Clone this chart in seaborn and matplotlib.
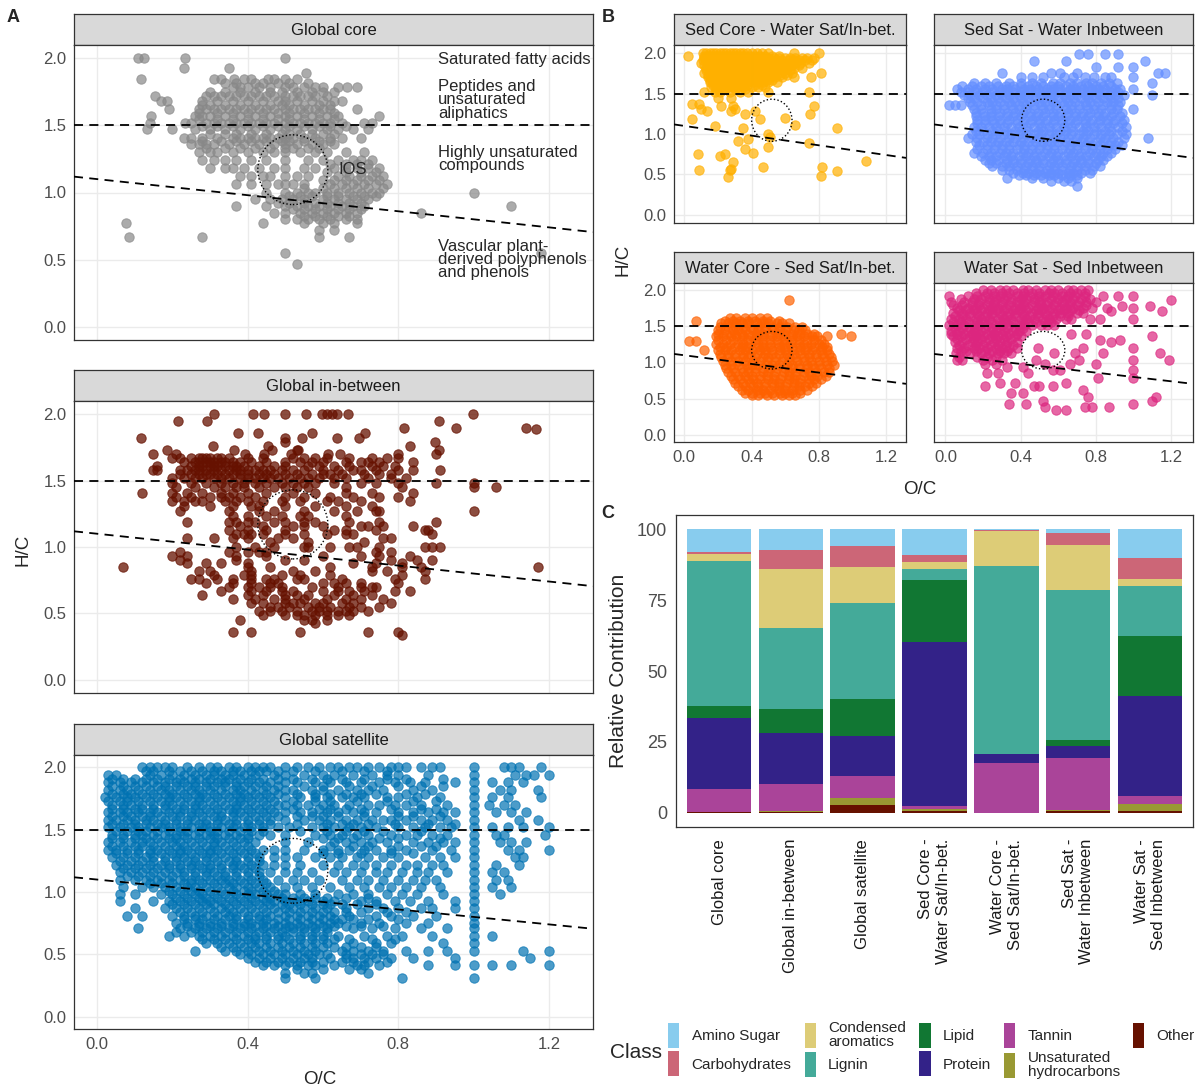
import numpy as np
import pandas as pd
import matplotlib
matplotlib.use("Agg")
import matplotlib.pyplot as plt
import seaborn as sns
from matplotlib.patches import Ellipse, Patch

# ---------------- data ----------------
oc_ticks = [0.0, 0.4, 0.8, 1.2]
hc_ticks = [0.0, 0.5, 1.0, 1.5, 2.0]

# van Krevelen points, stored as (H/C, [O/C values]) rows
core_rows = [
    (2.00, [0.11, 0.125, 0.235, 0.50]),
    (1.93, [0.23, 0.35]),
    (1.89, [0.555]),
    (1.85, [0.117, 0.31, 0.33, 0.365, 0.39, 0.41, 0.455, 0.47, 0.50, 0.53]),
    (1.79, [0.36, 0.38, 0.40, 0.43, 0.46, 0.50, 0.52, 0.55, 0.58, 0.60, 0.64, 0.665, 0.69]),
    (1.72, [0.155, 0.29, 0.31, 0.33, 0.35, 0.37, 0.39, 0.41, 0.43, 0.45, 0.47, 0.50, 0.52, 0.54, 0.56, 0.58, 0.61]),
    (1.68, [0.17, 0.185, 0.28, 0.32, 0.36, 0.40, 0.44, 0.48, 0.50, 0.53, 0.57, 0.60, 0.63, 0.65]),
    (1.62, [0.19, 0.27, 0.29, 0.31, 0.33, 0.35, 0.37, 0.39, 0.41, 0.43, 0.45, 0.47, 0.50, 0.52, 0.54, 0.56, 0.58, 0.60, 0.62, 0.69]),
    (1.57, [0.143, 0.26, 0.28, 0.30, 0.34, 0.38, 0.42, 0.46, 0.50, 0.53, 0.57, 0.61, 0.64, 0.75]),
    (1.52, [0.14, 0.235, 0.25, 0.29, 0.31, 0.33, 0.35, 0.37, 0.39, 0.41, 0.43, 0.45, 0.47, 0.50, 0.52, 0.54, 0.56, 0.58, 0.60, 0.62, 0.65, 0.71, 0.73]),
    (1.47, [0.133, 0.20, 0.26, 0.30, 0.34, 0.38, 0.42, 0.46, 0.50, 0.53, 0.57, 0.61, 0.64, 0.68, 0.72]),
    (1.41, [0.23, 0.25, 0.28, 0.32, 0.36, 0.38, 0.40, 0.42, 0.44, 0.46, 0.48, 0.50, 0.52, 0.55, 0.58, 0.62, 0.65, 0.70]),
    (1.36, [0.25, 0.27, 0.29, 0.31, 0.35, 0.39, 0.43, 0.47, 0.50, 0.53, 0.57, 0.60, 0.63]),
    (1.30, [0.27, 0.30, 0.32, 0.36, 0.40, 0.44, 0.47, 0.50, 0.54, 0.58, 0.61, 0.66, 0.71]),
    (1.24, [0.28, 0.31, 0.34, 0.37, 0.41, 0.45, 0.50, 0.56, 0.60, 0.64, 0.68, 0.70, 0.73]),
    (1.18, [0.30, 0.34, 0.36, 0.39, 0.43, 0.47, 0.50, 0.55, 0.58, 0.63, 0.66, 0.69, 0.72, 0.75]),
    (1.12, [0.38, 0.41, 0.44, 0.46, 0.50, 0.53, 0.56, 0.64, 0.67, 0.70, 0.73, 0.76]),
    (1.06, [0.37, 0.41, 0.45, 0.48, 0.50, 0.52, 0.55, 0.62, 0.65, 0.68, 0.71, 0.74, 0.77]),
    (1.00, [0.45, 0.50, 0.53, 0.56, 0.58, 0.61, 0.64, 0.67, 0.70, 0.73, 0.75, 1.00]),
    (0.95, [0.42, 0.46, 0.49, 0.52, 0.55, 0.60, 0.63, 0.66, 0.69, 0.72]),
    (0.90, [0.37, 0.45, 0.50, 0.53, 0.56, 0.59, 0.62, 0.65, 0.68, 0.71, 1.10]),
    (0.85, [0.47, 0.50, 0.54, 0.57, 0.60, 0.63, 0.66, 0.69, 0.86]),
    (0.80, [0.50, 0.53, 0.56, 0.59, 0.62, 0.66, 0.69]),
    (0.77, [0.077, 0.44, 0.55, 0.60, 0.63, 0.69]),
    (0.72, [0.59, 0.63]),
    (0.67, [0.084, 0.28, 0.59, 0.67]),
    (0.55, [0.50, 1.18]),
    (0.47, [0.53]),
]
core_fill_rows = [
    (1.82, [0.34, 0.37, 0.42, 0.44, 0.48, 0.51, 0.56]),
    (1.75, [0.30, 0.34, 0.38, 0.42, 0.46, 0.49, 0.53, 0.57, 0.60, 0.63]),
    (1.65, [0.28, 0.30, 0.34, 0.38, 0.42, 0.46, 0.49, 0.51, 0.55, 0.59, 0.62]),
    (1.595, [0.27, 0.32, 0.36, 0.40, 0.44, 0.48, 0.51, 0.55, 0.59, 0.63]),
    (1.545, [0.27, 0.32, 0.36, 0.40, 0.44, 0.48, 0.51, 0.55, 0.59, 0.63]),
    (1.495, [0.28, 0.32, 0.36, 0.40, 0.44, 0.48, 0.51, 0.55, 0.59, 0.62, 0.66]),
    (1.44, [0.30, 0.34, 0.37, 0.41, 0.45, 0.49, 0.51, 0.54, 0.57, 0.60, 0.63]),
    (1.385, [0.28, 0.33, 0.37, 0.41, 0.45, 0.49, 0.51, 0.55, 0.59, 0.62]),
    (1.33, [0.29, 0.34, 0.38, 0.42, 0.46, 0.50, 0.52, 0.56, 0.59]),
    (1.21, [0.62, 0.66, 0.69, 0.72]),
    (1.15, [0.61, 0.66, 0.70, 0.74]),
    (1.09, [0.60, 0.63, 0.66, 0.69, 0.72, 0.75]),
    (1.03, [0.55, 0.60, 0.63, 0.66, 0.69, 0.72, 0.76]),
    (0.975, [0.51, 0.54, 0.57, 0.61, 0.64, 0.68, 0.71, 0.74]),
    (0.92, [0.48, 0.51, 0.55, 0.58, 0.61, 0.64, 0.67, 0.70]),
    (0.875, [0.52, 0.55, 0.58, 0.61, 0.64, 0.67, 0.70]),
    (0.825, [0.55, 0.58, 0.61, 0.64, 0.67]),
]

between_rows = [
    (2.00, [0.312, 0.415, 0.444, 0.50, 0.555, 0.598, 0.61, 0.623, 0.637, 0.666, 0.998]),
    (1.95, [0.216, 0.292, 0.907]),
    (1.90, [0.816, 0.952, 1.14]),
    (1.89, [1.165]),
    (1.86, [0.375, 0.428, 0.57, 0.712]),
    (1.82, [0.117, 0.50, 0.545, 0.636, 0.697]),
    (1.79, [0.50, 0.897]),
    (1.76, [0.307, 0.454, 0.831]),
    (1.73, [0.185, 0.363, 0.466, 0.53, 0.535, 0.907]),
    (1.70, [0.15, 0.21, 0.393, 0.444, 0.514, 0.614, 0.646, 0.798, 0.90]),
    (1.67, [0.20, 0.22, 0.25, 0.27, 0.28, 0.29, 0.30, 0.32, 0.33, 0.35, 0.40, 0.44, 0.52, 0.55, 0.58, 0.61, 0.67, 0.73, 0.77, 0.80]),
    (1.64, [0.23, 0.26, 0.27, 0.29, 0.30, 0.31, 0.33, 0.34, 0.36, 0.38, 0.41, 0.45, 0.50, 0.54, 0.57, 0.60, 0.66, 0.70, 0.72, 0.75, 0.84]),
    (1.61, [0.16, 0.25, 0.27, 0.28, 0.30, 0.31, 0.32, 0.34, 0.36, 0.37, 0.39, 0.43, 0.47, 0.50, 0.56, 0.59, 0.63, 0.67, 0.73, 0.76, 0.79]),
    (1.58, [0.15, 0.16, 0.22, 0.24, 0.26, 0.27, 0.29, 0.31, 0.33, 0.35, 0.37, 0.38, 0.40, 0.42, 0.44, 0.46, 0.49, 0.52, 0.55, 0.60, 0.64, 0.68, 0.70, 0.74, 0.80, 0.84, 0.91]),
    (1.55, [0.22, 0.25, 0.27, 0.29, 0.30, 0.32, 0.34, 0.36, 0.38, 0.40, 0.43, 0.45, 0.47, 0.50, 0.53, 0.57, 0.60, 0.62, 0.65, 0.71, 0.75, 0.78]),
    (1.52, [0.20, 0.23, 0.26, 0.28, 0.31, 0.33, 0.35, 0.38, 0.40, 0.42, 0.44, 0.46, 0.48, 0.51, 0.54, 0.56, 0.59, 0.63, 0.66, 0.72, 0.78, 0.82]),
    (1.48, [0.20, 0.25, 0.29, 0.33, 0.36, 0.39, 0.42, 0.45, 0.49, 0.52, 0.55, 0.58, 0.63, 0.70, 0.74, 0.80, 0.90, 1.00]),
    (1.45, [0.21, 0.26, 0.31, 0.34, 0.37, 0.39, 0.43, 0.47, 0.50, 0.53, 0.56, 0.66, 0.81, 1.00, 1.06]),
    (1.41, [0.12, 0.20, 0.24, 0.28, 0.33, 0.36, 0.40, 0.45, 0.52, 0.58, 0.66, 0.73, 0.84]),
    (1.38, [0.21, 0.25, 0.30, 0.33, 0.35, 0.38, 0.42, 0.50, 0.55, 0.62, 0.68, 0.75, 0.80]),
    (1.35, [0.20, 0.23, 0.26, 0.28, 0.34, 0.37, 0.40, 0.44, 0.49, 0.54, 0.61, 0.64, 0.70, 0.83]),
    (1.31, [0.23, 0.30, 0.36, 0.41, 0.43, 0.50, 0.58, 0.66, 0.73]),
    (1.27, [0.22, 0.35, 0.43, 0.47, 0.55, 0.63, 0.69, 0.74, 0.75, 1.00]),
    (1.23, [0.36, 0.40, 0.45, 0.49, 0.54, 0.56, 0.66]),
    (1.19, [0.24, 0.35, 0.37, 0.40, 0.42, 0.47, 0.50, 0.55, 0.58, 0.67, 0.75, 0.90]),
    (1.16, [0.38, 0.44, 0.52, 0.55, 0.60, 0.70, 0.72, 0.76, 0.84]),
    (1.13, [0.35, 0.40, 0.45, 0.50, 0.63, 0.66, 0.74, 0.87, 0.88]),
    (1.10, [0.37, 0.39, 0.41, 0.44, 0.50, 0.55, 0.61, 0.66, 0.68, 0.89]),
    (1.07, [0.24, 0.31, 0.36, 0.40, 0.48, 0.52, 0.76, 0.78]),
    (1.04, [0.46, 0.56, 0.71]),
    (1.00, [0.37, 0.42, 0.47, 0.55, 0.56, 0.62, 0.67, 0.69, 0.75, 0.87, 0.89, 0.91]),
    (0.96, [0.22, 0.35, 0.40, 0.43, 0.45, 0.74, 0.78]),
    (0.93, [0.20, 0.24, 0.37, 0.45, 0.60, 0.70, 0.75, 0.83]),
    (0.90, [0.22, 0.37, 0.50, 0.55, 0.78, 0.85, 0.89]),
    (0.88, [0.24, 0.29, 0.33, 0.40, 0.68, 0.74, 0.81]),
    (0.85, [0.07, 0.40, 0.46, 0.62, 0.73, 0.81, 0.86, 1.17]),
    (0.82, [0.27, 0.30, 0.41, 0.52, 0.58, 0.73, 0.77, 0.87]),
    (0.79, [0.31, 0.39, 0.41, 0.49, 0.54, 0.62, 0.81]),
    (0.76, [0.25, 0.27, 0.32, 0.36, 0.41, 0.45, 0.47, 0.53, 0.55, 0.65, 0.79, 0.87]),
    (0.73, [0.29, 0.36, 0.41, 0.46, 0.48, 0.60, 0.63, 0.66, 0.70, 0.80]),
    (0.70, [0.35, 0.40, 0.43, 0.46, 0.49, 0.57, 0.64, 0.70, 0.73, 0.74]),
    (0.67, [0.33, 0.41, 0.45, 0.49, 0.52, 0.60, 0.64, 0.67, 0.71, 0.79, 0.83]),
    (0.64, [0.28, 0.40, 0.44, 0.50, 0.53, 0.56, 0.63, 0.68, 0.73]),
    (0.61, [0.36, 0.42, 0.47, 0.50, 0.55, 0.61, 0.66, 0.70, 0.76]),
    (0.58, [0.41, 0.44, 0.50, 0.52, 0.54, 0.58, 0.60, 0.65, 0.68, 0.78]),
    (0.55, [0.46, 0.48, 0.51, 0.56, 0.59, 0.62, 0.67, 0.70, 0.75]),
    (0.52, [0.43, 0.46, 0.49, 0.53, 0.57, 0.59, 0.61, 0.64, 0.66, 0.68, 0.72]),
    (0.49, [0.44, 0.50, 0.53, 0.55, 0.58, 0.61, 0.64, 0.67]),
    (0.45, [0.38, 0.55, 0.57, 0.61]),
    (0.43, [0.58]),
    (0.36, [0.36, 0.41, 0.54, 0.72, 0.80]),
    (0.34, [0.81]),
]

satellite_rows = [
    (2.00, [0.12, 0.14, 0.16, 0.18, 0.20, 0.24, 0.27, 0.30, 0.32, 0.35, 0.37, 0.40, 0.42, 0.44, 0.46, 0.50, 0.53, 0.56, 0.59, 0.62, 0.64, 0.67, 0.69, 0.72, 0.75, 0.78, 0.80, 0.82, 0.86, 0.89, 0.91, 1.00, 1.08, 1.10, 1.12, 1.18]),
    (1.94, [0.03, 0.05, 0.14, 0.17, 0.20, 0.23, 0.26, 0.29, 0.31, 0.34, 0.36, 0.39, 0.42, 0.47, 0.50, 0.55, 0.60, 0.63, 0.68, 0.73, 0.77, 0.80, 0.88, 1.00, 1.11, 1.14, 1.16, 1.20]),
    (1.88, [0.03, 0.06, 0.09, 0.12, 0.15, 0.18, 0.21, 0.23, 0.26, 0.29, 0.32, 0.34, 0.37, 0.40, 0.43, 0.46, 0.50, 0.53, 0.58, 0.62, 0.66, 0.70, 0.75, 0.79, 0.83, 0.87, 0.95, 1.00, 1.05, 1.09, 1.13]),
    (1.82, [0.03, 0.06, 0.08, 0.11, 0.14, 0.17, 0.19, 0.22, 0.25, 0.27, 0.30, 0.33, 0.36, 0.38, 0.41, 0.44, 0.47, 0.50, 0.52, 0.57, 0.60, 0.64, 0.69, 0.72, 0.76, 0.84, 0.89, 1.00, 1.07, 1.10, 1.17]),
    (1.76, [0.02, 0.05, 0.08, 0.10, 0.13, 0.16, 0.19, 0.21, 0.24, 0.27, 0.29, 0.32, 0.35, 0.38, 0.40, 0.43, 0.46, 0.50, 0.54, 0.58, 0.61, 0.65, 0.68, 0.71, 0.77, 0.80, 0.85, 0.91, 1.00, 1.05, 1.09, 1.18]),
    (1.70, [0.04, 0.07, 0.09, 0.12, 0.15, 0.18, 0.20, 0.23, 0.26, 0.28, 0.31, 0.34, 0.37, 0.39, 0.42, 0.45, 0.48, 0.50, 0.53, 0.56, 0.60, 0.63, 0.67, 0.72, 0.75, 0.79, 0.82, 0.86, 0.93, 1.00, 1.04, 1.08, 1.11]),
    (1.64, [0.03, 0.06, 0.08, 0.11, 0.14, 0.16, 0.19, 0.22, 0.25, 0.27, 0.30, 0.33, 0.36, 0.38, 0.41, 0.44, 0.47, 0.50, 0.54, 0.57, 0.61, 0.64, 0.68, 0.71, 0.74, 0.80, 0.84, 0.88, 0.92, 0.95, 1.00, 1.06, 1.10, 1.14]),
    (1.58, [0.03, 0.05, 0.08, 0.10, 0.13, 0.15, 0.18, 0.21, 0.24, 0.26, 0.29, 0.32, 0.34, 0.37, 0.40, 0.43, 0.46, 0.50, 0.55, 0.59, 0.62, 0.66, 0.69, 0.73, 0.76, 0.78, 0.82, 0.86, 0.89, 0.93, 1.00, 1.12, 1.17]),
    (1.52, [0.03, 0.06, 0.09, 0.11, 0.14, 0.17, 0.19, 0.22, 0.25, 0.28, 0.30, 0.33, 0.36, 0.39, 0.41, 0.44, 0.48, 0.51, 0.57, 0.60, 0.63, 0.67, 0.70, 0.74, 0.80, 0.84, 0.87, 0.91, 0.94, 1.00, 1.05, 1.09, 1.13, 1.20]),
    (1.46, [0.04, 0.07, 0.10, 0.12, 0.15, 0.18, 0.21, 0.23, 0.26, 0.29, 0.31, 0.34, 0.37, 0.40, 0.43, 0.46, 0.50, 0.58, 0.62, 0.65, 0.69, 0.72, 0.78, 0.82, 0.85, 0.89, 0.93, 1.00, 1.06, 1.08, 1.19]),
    (1.40, [0.03, 0.06, 0.09, 0.12, 0.14, 0.17, 0.20, 0.22, 0.25, 0.28, 0.31, 0.33, 0.36, 0.39, 0.42, 0.50, 0.56, 0.63, 0.66, 0.70, 0.73, 0.77, 0.84, 0.88, 0.92, 0.95, 1.00, 1.07, 1.10, 1.14]),
    (1.34, [0.03, 0.05, 0.08, 0.11, 0.14, 0.16, 0.19, 0.22, 0.24, 0.27, 0.30, 0.32, 0.35, 0.38, 0.41, 0.44, 0.47, 0.50, 0.55, 0.60, 0.64, 0.67, 0.71, 0.74, 0.78, 0.82, 0.89, 0.94, 1.00, 1.09, 1.12, 1.20]),
    (1.28, [0.04, 0.07, 0.10, 0.13, 0.15, 0.18, 0.21, 0.23, 0.26, 0.29, 0.31, 0.34, 0.37, 0.40, 0.43, 0.47, 0.50, 0.53, 0.58, 0.62, 0.65, 0.69, 0.72, 0.76, 0.80, 0.87, 0.91, 0.95, 1.00, 1.11, 1.13]),
    (1.22, [0.05, 0.08, 0.11, 0.14, 0.17, 0.19, 0.22, 0.25, 0.27, 0.30, 0.33, 0.36, 0.38, 0.41, 0.44, 0.47, 0.50, 0.54, 0.60, 0.64, 0.68, 0.71, 0.74, 0.78, 0.82, 0.85, 0.89, 0.92, 1.00, 1.06, 1.12]),
    (1.16, [0.06, 0.09, 0.12, 0.15, 0.18, 0.21, 0.23, 0.26, 0.29, 0.31, 0.34, 0.37, 0.40, 0.43, 0.46, 0.50, 0.53, 0.57, 0.63, 0.66, 0.70, 0.74, 0.77, 0.81, 0.85, 0.88, 0.93, 1.00, 1.05, 1.08]),
    (1.10, [0.06, 0.10, 0.13, 0.16, 0.19, 0.22, 0.25, 0.27, 0.30, 0.33, 0.35, 0.38, 0.41, 0.44, 0.48, 0.52, 0.55, 0.59, 0.65, 0.69, 0.72, 0.76, 0.80, 0.84, 0.87, 0.90, 1.00, 1.06, 1.09]),
    (1.04, [0.07, 0.12, 0.15, 0.18, 0.21, 0.24, 0.26, 0.29, 0.32, 0.35, 0.37, 0.40, 0.43, 0.46, 0.50, 0.53, 0.57, 0.62, 0.67, 0.71, 0.75, 0.78, 0.82, 0.86, 0.91, 1.00, 1.05, 1.10]),
    (0.98, [0.06, 0.10, 0.17, 0.20, 0.23, 0.26, 0.28, 0.31, 0.34, 0.37, 0.40, 0.42, 0.45, 0.48, 0.50, 0.54, 0.58, 0.64, 0.68, 0.72, 0.77, 0.81, 0.85, 0.92, 1.00, 1.07]),
    (0.93, [0.06, 0.15, 0.19, 0.22, 0.25, 0.28, 0.30, 0.33, 0.36, 0.39, 0.42, 0.45, 0.47, 0.50, 0.53, 0.56, 0.60, 0.63, 0.70, 0.74, 0.79, 0.83, 0.88, 0.95, 1.00]),
    (0.87, [0.10, 0.18, 0.21, 0.24, 0.27, 0.30, 0.33, 0.35, 0.38, 0.41, 0.44, 0.47, 0.50, 0.52, 0.55, 0.58, 0.61, 0.66, 0.72, 0.76, 0.80, 0.86, 0.89, 0.95, 1.00]),
    (0.81, [0.08, 0.12, 0.20, 0.23, 0.26, 0.29, 0.32, 0.35, 0.37, 0.40, 0.43, 0.46, 0.50, 0.53, 0.56, 0.59, 0.62, 0.67, 0.74, 0.78, 0.84, 0.90, 1.00]),
    (0.75, [0.21, 0.24, 0.27, 0.30, 0.33, 0.36, 0.39, 0.41, 0.44, 0.47, 0.50, 0.53, 0.56, 0.59, 0.62, 0.64, 0.70, 0.75, 0.82, 0.88, 1.00]),
    (0.71, [0.11, 0.22, 0.26, 0.29, 0.32, 0.35, 0.38, 0.41, 0.44, 0.47, 0.50, 0.52, 0.55, 0.58, 0.61, 0.68, 0.73, 0.79, 0.86, 0.93, 1.00]),
    (0.65, [0.19, 0.23, 0.27, 0.30, 0.33, 0.36, 0.39, 0.42, 0.45, 0.48, 0.50, 0.54, 0.57, 0.60, 0.64, 0.71, 0.77, 0.81, 0.89, 1.00, 1.05]),
    (0.59, [0.29, 0.32, 0.35, 0.38, 0.41, 0.43, 0.46, 0.49, 0.52, 0.55, 0.58, 0.61, 0.68, 0.74, 0.78, 0.92, 1.00]),
    (0.53, [0.26, 0.34, 0.37, 0.40, 0.43, 0.46, 0.49, 0.52, 0.55, 0.58, 0.65, 0.68, 0.72, 0.76, 0.82, 0.88, 0.93, 1.00, 1.13, 1.20]),
    (0.47, [0.40, 0.43, 0.46, 0.49, 0.52, 0.55, 0.57, 0.62, 0.66, 0.68, 0.71, 0.74, 0.78, 0.84, 0.95, 1.15]),
    (0.41, [0.44, 0.47, 0.50, 0.53, 0.56, 0.58, 0.63, 0.69, 0.71, 0.75, 0.88, 0.95, 1.00, 1.05, 1.10, 1.20]),
    (0.35, [0.50, 0.55, 0.57, 0.72]),
    (0.31, [0.50, 0.58, 0.81, 1.00]),
]
satellite_fill_rows = [
    (1.97, [0.13, 0.15, 0.19, 0.22, 0.25, 0.28, 0.31, 0.33, 0.36, 0.38, 0.41, 0.43, 0.45, 0.48, 0.52, 0.58, 0.65, 0.71, 0.77]),
    (1.91, [0.04, 0.07, 0.10, 0.13, 0.16, 0.19, 0.22, 0.25, 0.27, 0.30, 0.33, 0.35, 0.38, 0.41, 0.44, 0.48, 0.52, 0.57, 0.61, 0.65, 0.71, 0.77, 0.82, 0.92]),
    (1.85, [0.04, 0.07, 0.10, 0.13, 0.16, 0.18, 0.21, 0.24, 0.26, 0.29, 0.31, 0.34, 0.37, 0.39, 0.42, 0.45, 0.48, 0.55, 0.60, 0.67, 0.73, 0.80, 0.86, 0.92]),
    (1.79, [0.04, 0.07, 0.09, 0.12, 0.15, 0.18, 0.20, 0.23, 0.26, 0.28, 0.31, 0.34, 0.37, 0.39, 0.42, 0.45, 0.48, 0.53, 0.58, 0.62, 0.66, 0.70, 0.74, 0.82, 0.87]),
    (1.73, [0.03, 0.06, 0.08, 0.11, 0.14, 0.17, 0.19, 0.22, 0.25, 0.27, 0.30, 0.33, 0.36, 0.38, 0.41, 0.44, 0.47, 0.52, 0.58, 0.62, 0.69, 0.77, 0.84, 0.90]),
    (1.67, [0.04, 0.07, 0.10, 0.12, 0.15, 0.18, 0.21, 0.23, 0.26, 0.29, 0.32, 0.35, 0.37, 0.40, 0.43, 0.46, 0.52, 0.59, 0.62, 0.66, 0.70, 0.78, 0.86, 0.90]),
    (1.61, [0.04, 0.07, 0.09, 0.12, 0.14, 0.17, 0.20, 0.22, 0.25, 0.28, 0.31, 0.33, 0.36, 0.39, 0.42, 0.45, 0.48, 0.53, 0.57, 0.60, 0.64, 0.71, 0.80, 0.84, 0.91]),
    (1.55, [0.04, 0.07, 0.10, 0.13, 0.16, 0.18, 0.21, 0.24, 0.27, 0.29, 0.32, 0.35, 0.37, 0.40, 0.43, 0.46, 0.53, 0.61, 0.65, 0.68, 0.72, 0.79, 0.88, 0.95]),
    (1.49, [0.05, 0.08, 0.11, 0.13, 0.16, 0.19, 0.22, 0.24, 0.27, 0.30, 0.32, 0.35, 0.38, 0.41, 0.44, 0.54, 0.61, 0.66, 0.71, 0.76, 0.86]),
    (1.43, [0.04, 0.07, 0.10, 0.13, 0.16, 0.19, 0.21, 0.24, 0.27, 0.30, 0.32, 0.35, 0.38, 0.40, 0.60, 0.64, 0.68, 0.75, 0.80, 0.91]),
    (1.37, [0.04, 0.07, 0.10, 0.12, 0.15, 0.18, 0.21, 0.23, 0.26, 0.29, 0.31, 0.34, 0.37, 0.40, 0.62, 0.68, 0.72, 0.80, 0.86, 0.90]),
    (1.31, [0.05, 0.08, 0.11, 0.14, 0.17, 0.20, 0.22, 0.25, 0.28, 0.30, 0.33, 0.36, 0.39, 0.42, 0.60, 0.64, 0.70, 0.78, 0.84]),
    (1.25, [0.06, 0.09, 0.12, 0.15, 0.18, 0.21, 0.24, 0.26, 0.29, 0.32, 0.35, 0.37, 0.40, 0.43]),
    (1.19, [0.07, 0.10, 0.13, 0.16, 0.19, 0.22, 0.25, 0.28, 0.30, 0.33, 0.36, 0.39, 0.42]),
    (1.13, [0.08, 0.11, 0.14, 0.17, 0.20, 0.23, 0.26, 0.29, 0.32, 0.34, 0.37, 0.40, 0.43]),
    (1.07, [0.14, 0.17, 0.20, 0.23, 0.25, 0.28, 0.31, 0.34, 0.36, 0.39, 0.42, 0.45]),
    (1.01, [0.19, 0.22, 0.25, 0.27, 0.30, 0.33, 0.36, 0.39, 0.41, 0.44, 0.47]),
    (0.95, [0.21, 0.24, 0.27, 0.29, 0.32, 0.35, 0.38, 0.41, 0.44, 0.46, 0.49, 0.52, 0.55, 0.58, 0.61, 0.66, 0.72]),
    (0.90, [0.20, 0.23, 0.26, 0.29, 0.31, 0.34, 0.37, 0.40, 0.43, 0.46, 0.49, 0.51, 0.54, 0.57, 0.60, 0.62, 0.65, 0.69, 0.74]),
    (0.84, [0.22, 0.25, 0.28, 0.31, 0.34, 0.36, 0.39, 0.42, 0.45, 0.48, 0.51, 0.54, 0.57, 0.60, 0.63, 0.66, 0.70, 0.77, 0.82]),
    (0.78, [0.23, 0.26, 0.28, 0.31, 0.34, 0.37, 0.40, 0.43, 0.45, 0.48, 0.51, 0.54, 0.57, 0.60, 0.63, 0.65, 0.68, 0.72, 0.80]),
    (0.73, [0.24, 0.27, 0.30, 0.33, 0.36, 0.39, 0.42, 0.45, 0.48, 0.51, 0.54, 0.57, 0.60, 0.63, 0.66, 0.70, 0.76]),
    (0.68, [0.21, 0.25, 0.28, 0.31, 0.34, 0.37, 0.40, 0.43, 0.46, 0.49, 0.52, 0.55, 0.58, 0.61]),
    (0.62, [0.28, 0.31, 0.34, 0.37, 0.40, 0.42, 0.45, 0.48, 0.51, 0.54, 0.57, 0.60, 0.63, 0.67, 0.73, 0.79]),
    (0.56, [0.33, 0.36, 0.39, 0.42, 0.45, 0.48, 0.51, 0.54, 0.57, 0.60, 0.63, 0.66, 0.70, 0.74]),
    (0.50, [0.38, 0.41, 0.44, 0.47, 0.50, 0.53, 0.56, 0.59, 0.61, 0.66, 0.70, 0.73, 0.76]),
    (0.44, [0.42, 0.45, 0.48, 0.51, 0.54, 0.57, 0.60, 0.65, 0.68, 0.72, 0.77]),
    (0.38, [0.53, 0.60, 0.67, 0.70]),
]

sedcore_rows = [
    (2.00, [0.11, 0.13, 0.15, 0.17, 0.19, 0.21, 0.23, 0.25, 0.27, 0.29, 0.31, 0.33, 0.35, 0.37, 0.40, 0.43, 0.46, 0.50, 0.65, 0.80]),
    (1.97, [0.02]),
    (1.94, [0.12, 0.14, 0.16, 0.18, 0.20, 0.22, 0.24, 0.26, 0.28, 0.30, 0.32, 0.34, 0.36, 0.38, 0.41, 0.44, 0.47, 0.50, 0.53, 0.56, 0.60, 0.63, 0.66, 0.70, 0.73, 0.77]),
    (1.88, [0.10, 0.14, 0.16, 0.18, 0.21, 0.23, 0.25, 0.27, 0.29, 0.31, 0.33, 0.35, 0.37, 0.39, 0.42, 0.45, 0.48, 0.51, 0.54, 0.58, 0.62, 0.66, 0.69, 0.74]),
    (1.82, [0.13, 0.15, 0.17, 0.19, 0.22, 0.24, 0.26, 0.28, 0.30, 0.32, 0.34, 0.36, 0.38, 0.41, 0.44, 0.47, 0.50, 0.53, 0.57, 0.61, 0.65, 0.70]),
    (1.76, [0.12, 0.15, 0.17, 0.20, 0.22, 0.24, 0.27, 0.29, 0.31, 0.33, 0.36, 0.38, 0.40, 0.43, 0.46, 0.49, 0.52, 0.56, 0.60, 0.64, 0.81]),
    (1.70, [0.14, 0.16, 0.19, 0.21, 0.23, 0.25, 0.28, 0.30, 0.32, 0.35, 0.37, 0.39, 0.42, 0.45, 0.48, 0.51, 0.54, 0.58, 0.65, 0.75]),
    (1.64, [0.15, 0.17, 0.20, 0.22, 0.25, 0.27, 0.30, 0.33, 0.36, 0.38, 0.41, 0.44, 0.47, 0.50, 0.55]),
    (1.58, [0.16, 0.19, 0.22, 0.26, 0.29, 0.32, 0.35, 0.40, 0.44, 0.48]),
    (1.52, [0.12, 0.18, 0.21, 0.27, 0.33, 0.38, 0.50, 0.74]),
    (1.45, [0.20, 0.28]),
    (1.37, [0.045, 0.086]),
    (1.34, [0.22, 0.29, 0.77]),
    (1.31, [0.10, 0.30]),
    (1.29, [0.135, 0.42]),
    (1.28, [0.28]),
    (1.25, [0.36, 0.745]),
    (1.20, [0.60]),
    (1.19, [0.045, 0.45]),
    (1.11, [0.66]),
    (1.10, [0.18]),
    (1.08, [0.91]),
    (1.07, [0.35]),
    (1.00, [0.50]),
    (0.96, [0.51]),
    (0.94, [0.38]),
    (0.91, [0.32]),
    (0.89, [0.74]),
    (0.84, [0.50]),
    (0.81, [0.36]),
    (0.77, [0.41]),
    (0.75, [0.08, 0.244]),
    (0.73, [0.21]),
    (0.67, [1.08]),
    (0.65, [0.29]),
    (0.59, [0.47, 0.82]),
    (0.57, [0.28]),
    (0.55, [0.086, 0.27]),
    (0.54, [0.91]),
    (0.48, [0.81]),
    (0.47, [0.26]),
]
sedcore_fill_rows = [
    (1.97, [0.12, 0.14, 0.16, 0.18, 0.20, 0.22, 0.24, 0.26, 0.28, 0.30, 0.32, 0.34, 0.36, 0.39, 0.42, 0.45, 0.48, 0.52, 0.56]),
    (1.91, [0.11, 0.13, 0.15, 0.17, 0.19, 0.22, 0.24, 0.26, 0.28, 0.30, 0.32, 0.35, 0.37, 0.40, 0.43, 0.46, 0.49, 0.52, 0.55, 0.58, 0.62, 0.65, 0.68, 0.72, 0.76]),
    (1.85, [0.12, 0.15, 0.17, 0.20, 0.22, 0.24, 0.26, 0.29, 0.31, 0.33, 0.36, 0.38, 0.40, 0.43, 0.46, 0.49, 0.52, 0.56, 0.60, 0.64, 0.68]),
    (1.79, [0.13, 0.16, 0.18, 0.21, 0.23, 0.25, 0.28, 0.30, 0.32, 0.35, 0.37, 0.40, 0.42, 0.45, 0.48, 0.51, 0.55, 0.59, 0.63]),
    (1.73, [0.14, 0.17, 0.20, 0.22, 0.24, 0.27, 0.29, 0.31, 0.34, 0.36, 0.38, 0.41, 0.44, 0.47, 0.50, 0.53, 0.57, 0.61]),
    (1.67, [0.15, 0.18, 0.21, 0.23, 0.26, 0.28, 0.31, 0.34, 0.37, 0.40, 0.43, 0.46, 0.49, 0.52]),
    (1.61, [0.17, 0.20, 0.24, 0.27, 0.30, 0.34, 0.37, 0.42, 0.46]),
    (1.55, [0.19, 0.24, 0.30, 0.36]),
]

sedsat_rows = [
    (1.99, [0.71, 0.76, 0.85, 0.92]),
    (1.90, [0.47, 0.64, 1.06]),
    (1.83, [0.80, 0.92, 1.00]),
    (1.76, [0.30, 0.56, 0.61, 0.70, 1.13, 1.17]),
    (1.70, [0.40, 0.46, 0.52, 0.63, 0.68, 0.74, 0.79, 0.85, 0.88, 1.00]),
    (1.63, [0.15, 0.21, 0.27, 0.34, 0.40, 0.46, 0.51, 0.57, 0.61, 0.66, 0.70, 0.75, 0.78, 0.83, 0.87, 0.91, 1.10]),
    (1.56, [0.06, 0.12, 0.16, 0.21, 0.25, 0.30, 0.33, 0.37, 0.42, 0.45, 0.49, 0.54, 0.57, 0.61, 0.66, 0.69, 0.73, 0.78, 0.81, 0.85, 0.90, 0.93, 1.00]),
    (1.48, [0.10, 0.13, 0.18, 0.22, 0.27, 0.30, 0.34, 0.39, 0.42, 0.46, 0.51, 0.54, 0.58, 0.63, 0.66, 0.70, 0.75, 0.78, 0.82, 0.87, 0.90, 0.95, 1.10]),
    (1.40, [0.13, 0.17, 0.22, 0.25, 0.29, 0.34, 0.37, 0.41, 0.45, 0.50, 0.53, 0.57, 0.62, 0.65, 0.69, 0.74, 0.77, 0.81, 0.86, 0.89, 0.93]),
    (1.36, [0.02, 0.05, 0.085]),
    (1.31, [0.15, 0.19, 0.24, 0.27, 0.31, 0.36, 0.39, 0.43, 0.47, 0.52, 0.55, 0.59, 0.64, 0.67, 0.71, 0.76, 0.79, 0.83, 0.88, 0.91, 1.00]),
    (1.22, [0.16, 0.21, 0.24, 0.28, 0.33, 0.36, 0.40, 0.45, 0.48, 0.52, 0.57, 0.60, 0.64, 0.69, 0.72, 0.76, 0.81, 0.84, 0.88, 0.93]),
    (1.13, [0.17, 0.21, 0.26, 0.29, 0.33, 0.38, 0.41, 0.45, 0.50, 0.53, 0.57, 0.62, 0.65, 0.69, 0.74, 0.77, 0.81, 0.86, 0.89, 0.94]),
    (1.04, [0.16, 0.20, 0.25, 0.28, 0.32, 0.37, 0.40, 0.44, 0.49, 0.52, 0.56, 0.61, 0.64, 0.68, 0.73, 0.76, 0.80, 0.85, 0.88, 0.94]),
    (0.95, [0.12, 0.17, 0.22, 0.25, 0.29, 0.34, 0.37, 0.41, 0.46, 0.49, 0.53, 0.58, 0.61, 0.65, 0.70, 0.73, 0.77, 0.82, 0.85, 0.89, 0.95, 1.08]),
    (0.86, [0.18, 0.22, 0.27, 0.30, 0.34, 0.39, 0.42, 0.46, 0.51, 0.54, 0.58, 0.63, 0.66, 0.70, 0.75, 0.78, 0.82, 0.87, 0.90, 0.94]),
    (0.77, [0.15, 0.20, 0.24, 0.29, 0.32, 0.36, 0.41, 0.44, 0.48, 0.53, 0.56, 0.60, 0.65, 0.68, 0.72, 0.77, 0.80, 0.84, 0.88]),
    (0.68, [0.21, 0.24, 0.28, 0.33, 0.36, 0.40, 0.45, 0.48, 0.52, 0.57, 0.60, 0.64, 0.69, 0.72, 0.76, 0.81, 0.84]),
    (0.60, [0.25, 0.30, 0.34, 0.38, 0.43, 0.46, 0.50, 0.55, 0.58, 0.62, 0.67, 0.70, 0.74, 0.79, 0.82]),
    (0.52, [0.36, 0.41, 0.44, 0.48, 0.53, 0.56, 0.60, 0.65, 0.68, 0.72, 0.77]),
    (0.45, [0.33, 0.46, 0.52, 0.60, 0.65, 0.70]),
    (0.36, [0.70]),
]
sedsat_fill_rows = [
    (1.59, [0.09, 0.14, 0.19, 0.23, 0.28, 0.32, 0.36, 0.40, 0.44, 0.48, 0.52, 0.56, 0.60, 0.64, 0.68, 0.72, 0.76, 0.80, 0.84, 0.88]),
    (1.52, [0.08, 0.12, 0.16, 0.20, 0.25, 0.29, 0.32, 0.36, 0.40, 0.44, 0.48, 0.53, 0.56, 0.60, 0.64, 0.68, 0.72, 0.76, 0.80, 0.84, 0.88, 0.92]),
    (1.44, [0.12, 0.15, 0.20, 0.24, 0.28, 0.32, 0.36, 0.40, 0.44, 0.48, 0.52, 0.56, 0.60, 0.64, 0.68, 0.72, 0.76, 0.80, 0.84, 0.88, 0.92]),
    (1.355, [0.14, 0.19, 0.23, 0.27, 0.31, 0.35, 0.39, 0.43, 0.47, 0.51, 0.55, 0.59, 0.63, 0.67, 0.71, 0.75, 0.79, 0.84, 0.88, 0.92]),
    (1.265, [0.16, 0.20, 0.24, 0.29, 0.33, 0.37, 0.41, 0.45, 0.49, 0.53, 0.57, 0.61, 0.65, 0.69, 0.73, 0.77, 0.81, 0.85, 0.89, 0.94]),
    (1.175, [0.17, 0.21, 0.25, 0.29, 0.34, 0.38, 0.42, 0.46, 0.50, 0.54, 0.58, 0.62, 0.66, 0.70, 0.74, 0.78, 0.82, 0.86, 0.90, 0.95]),
    (1.085, [0.15, 0.19, 0.23, 0.27, 0.31, 0.35, 0.39, 0.43, 0.47, 0.51, 0.55, 0.59, 0.63, 0.67, 0.71, 0.75, 0.79, 0.83, 0.87, 0.92, 0.96]),
    (0.995, [0.14, 0.18, 0.22, 0.27, 0.31, 0.35, 0.39, 0.43, 0.47, 0.51, 0.55, 0.59, 0.63, 0.67, 0.71, 0.75, 0.79, 0.83, 0.87, 0.91, 0.96]),
    (0.905, [0.16, 0.20, 0.24, 0.28, 0.32, 0.36, 0.40, 0.44, 0.48, 0.52, 0.56, 0.60, 0.64, 0.68, 0.72, 0.76, 0.80, 0.84, 0.88, 0.92]),
    (0.815, [0.17, 0.22, 0.26, 0.30, 0.34, 0.38, 0.42, 0.46, 0.50, 0.54, 0.58, 0.62, 0.66, 0.70, 0.74, 0.78, 0.82, 0.86, 0.90]),
    (0.725, [0.19, 0.23, 0.27, 0.31, 0.35, 0.39, 0.43, 0.47, 0.51, 0.55, 0.59, 0.63, 0.67, 0.71, 0.75, 0.79, 0.83, 0.86]),
    (0.64, [0.23, 0.27, 0.32, 0.36, 0.40, 0.44, 0.48, 0.52, 0.56, 0.60, 0.64, 0.68, 0.72, 0.76, 0.80]),
    (0.56, [0.30, 0.34, 0.38, 0.42, 0.46, 0.50, 0.54, 0.58, 0.62, 0.66, 0.70, 0.74, 0.78]),
    (0.49, [0.39, 0.43, 0.47, 0.51, 0.55, 0.58, 0.62, 0.66, 0.70]),
    (0.42, [0.56, 0.63, 0.67]),
]

watcore_rows = [
    (1.87, [0.62]),
    (1.62, [0.27, 0.31, 0.36, 0.40, 0.45, 0.49]),
    (1.57, [0.07]),
    (1.54, [0.22, 0.26, 0.31, 0.34, 0.38, 0.43, 0.46, 0.50, 0.55, 0.58, 0.62]),
    (1.45, [0.20, 0.24, 0.29, 0.32, 0.36, 0.41, 0.44, 0.48, 0.53, 0.56, 0.60, 0.65, 0.68, 0.72]),
    (1.40, [0.93]),
    (1.36, [0.19, 0.23, 0.28, 0.31, 0.35, 0.40, 0.43, 0.47, 0.52, 0.55, 0.59, 0.64, 0.67, 0.71, 0.76, 0.79, 0.85, 0.99]),
    (1.30, [0.03, 0.07]),
    (1.26, [0.19, 0.23, 0.27, 0.32, 0.35, 0.39, 0.44, 0.47, 0.51, 0.56, 0.59, 0.63, 0.68, 0.71, 0.75, 0.80, 0.83]),
    (1.17, [0.12, 0.20, 0.24, 0.28, 0.33, 0.36, 0.40, 0.45, 0.48, 0.52, 0.57, 0.60, 0.64, 0.69, 0.72, 0.76, 0.81, 0.85]),
    (1.07, [0.22, 0.26, 0.30, 0.35, 0.38, 0.42, 0.47, 0.50, 0.54, 0.59, 0.62, 0.66, 0.71, 0.74, 0.78, 0.83, 0.87]),
    (0.97, [0.24, 0.28, 0.32, 0.37, 0.40, 0.44, 0.49, 0.52, 0.56, 0.61, 0.64, 0.68, 0.73, 0.76, 0.80, 0.85, 0.89]),
    (0.87, [0.26, 0.30, 0.35, 0.38, 0.42, 0.47, 0.50, 0.54, 0.59, 0.62, 0.66, 0.71, 0.74, 0.78, 0.83, 0.86]),
    (0.77, [0.29, 0.33, 0.38, 0.41, 0.45, 0.50, 0.53, 0.57, 0.62, 0.65, 0.69, 0.74, 0.77, 0.81]),
    (0.67, [0.32, 0.36, 0.41, 0.44, 0.48, 0.53, 0.56, 0.60, 0.65, 0.68, 0.72, 0.76]),
    (0.58, [0.36, 0.40, 0.45, 0.48, 0.52, 0.57, 0.60, 0.64, 0.69]),
]
watcore_fill_rows = [
    (1.58, [0.24, 0.29, 0.33, 0.38, 0.42, 0.47, 0.51, 0.56]),
    (1.49, [0.21, 0.26, 0.30, 0.35, 0.39, 0.44, 0.48, 0.52, 0.57, 0.61, 0.66, 0.70]),
    (1.40, [0.20, 0.25, 0.30, 0.34, 0.38, 0.43, 0.47, 0.51, 0.56, 0.60, 0.64, 0.69, 0.73, 0.77]),
    (1.31, [0.20, 0.25, 0.29, 0.34, 0.38, 0.42, 0.47, 0.51, 0.55, 0.60, 0.64, 0.68, 0.73, 0.77, 0.81]),
    (1.21, [0.21, 0.25, 0.30, 0.34, 0.38, 0.43, 0.47, 0.51, 0.56, 0.60, 0.64, 0.69, 0.73, 0.77, 0.82, 0.85]),
    (1.12, [0.21, 0.26, 0.30, 0.35, 0.39, 0.43, 0.48, 0.52, 0.56, 0.61, 0.65, 0.69, 0.74, 0.78, 0.82, 0.86]),
    (1.02, [0.23, 0.28, 0.32, 0.36, 0.41, 0.45, 0.49, 0.54, 0.58, 0.62, 0.67, 0.71, 0.75, 0.80, 0.84, 0.88]),
    (0.92, [0.25, 0.29, 0.34, 0.38, 0.42, 0.47, 0.51, 0.55, 0.60, 0.64, 0.68, 0.73, 0.77, 0.81, 0.86]),
    (0.82, [0.28, 0.32, 0.36, 0.40, 0.45, 0.49, 0.53, 0.58, 0.62, 0.66, 0.71, 0.75, 0.79, 0.84]),
    (0.72, [0.30, 0.35, 0.39, 0.43, 0.48, 0.52, 0.56, 0.61, 0.65, 0.69, 0.74, 0.78]),
    (0.62, [0.34, 0.38, 0.43, 0.47, 0.51, 0.56, 0.60, 0.64, 0.69, 0.73]),
    (0.55, [0.40, 0.44, 0.49, 0.53, 0.58, 0.62, 0.66]),
]

watsat_rows = [
    (2.00, [0.20, 0.24, 0.29, 0.32, 0.36, 0.41, 0.44, 0.48, 0.53, 0.56, 0.60, 0.65, 0.68, 0.72, 0.76]),
    (1.92, [0.02, 0.12, 0.17, 0.21, 0.26, 0.29, 0.33, 0.38, 0.41, 0.45, 0.50, 0.53, 0.57, 0.62, 0.65, 0.69, 0.74, 0.84, 0.92, 1.00]),
    (1.87, [1.20]),
    (1.84, [0.03, 0.10, 0.14, 0.18, 0.23, 0.26, 0.30, 0.35, 0.38, 0.42, 0.47, 0.50, 0.54, 0.59, 0.62, 0.66, 0.71, 0.75, 0.80]),
    (1.78, [0.94, 1.09]),
    (1.76, [0.06, 0.12, 0.16, 0.20, 0.25, 0.28, 0.32, 0.37, 0.40, 0.44, 0.49, 0.52, 0.56, 0.61, 0.64, 0.68, 0.73, 0.78, 0.86, 1.00]),
    (1.71, [0.88, 1.15]),
    (1.68, [0.04, 0.09, 0.13, 0.17, 0.22, 0.25, 0.29, 0.34, 0.37, 0.41, 0.46, 0.49, 0.53, 0.58, 0.61, 0.65, 0.70, 0.73]),
    (1.60, [0.03, 0.07, 0.11, 0.16, 0.19, 0.23, 0.28, 0.31, 0.35, 0.40, 0.43, 0.47, 0.52, 0.55, 0.59, 0.64, 0.67, 0.77, 0.82, 1.00]),
    (1.52, [0.02, 0.06, 0.10, 0.15, 0.18, 0.22, 0.27, 0.30, 0.34, 0.39, 0.42, 0.46, 0.51, 0.54, 0.58]),
    (1.44, [0.03, 0.07, 0.12, 0.15, 0.19, 0.24, 0.27, 0.31, 0.36, 0.39, 0.43]),
    (1.40, [0.67, 0.75]),
    (1.36, [0.04, 0.08, 0.13, 0.16, 0.20, 0.25, 0.28, 0.32, 0.37, 0.40, 1.10]),
    (1.31, [0.82, 0.93]),
    (1.28, [0.05, 0.09, 0.14, 0.17, 0.21, 0.26, 0.29, 0.33, 0.38, 0.88]),
    (1.20, [0.06, 0.10, 0.15, 0.18, 0.22, 0.27, 0.30, 0.34, 0.38, 0.49, 0.73, 1.00]),
    (1.13, [0.055, 0.13, 0.19, 0.23, 0.28, 0.31, 0.35, 0.58, 0.69, 0.84, 1.14]),
    (1.04, [0.06, 0.09, 0.20, 0.25, 0.30, 0.48, 0.71, 1.00, 1.19]),
    (0.98, [0.21, 0.27, 0.53, 0.66, 0.80]),
    (0.94, [0.33, 0.41]),
    (0.89, [0.57, 0.61, 1.00]),
    (0.85, [0.22, 0.28, 0.44]),
    (0.79, [0.81, 1.00]),
    (0.72, [0.29, 0.37, 0.64]),
    (0.67, [0.21, 0.47, 0.50, 0.57]),
    (0.62, [0.73]),
    (0.58, [0.35, 0.41]),
    (0.52, [0.76, 1.12]),
    (0.47, [0.52, 1.10]),
    (0.42, [0.34, 0.43, 1.00]),
    (0.38, [0.53, 0.74, 0.78, 0.87]),
    (0.34, [0.59, 0.64]),
]
watsat_fill_rows = [
    (1.96, [0.16, 0.22, 0.26, 0.30, 0.34, 0.38, 0.42, 0.46, 0.50, 0.55, 0.58, 0.62, 0.66, 0.70, 0.74]),
    (1.88, [0.08, 0.15, 0.19, 0.23, 0.27, 0.31, 0.35, 0.40, 0.43, 0.47, 0.51, 0.56, 0.60, 0.64, 0.68, 0.72, 0.77]),
    (1.80, [0.04, 0.09, 0.14, 0.18, 0.22, 0.26, 0.30, 0.34, 0.39, 0.42, 0.46, 0.51, 0.54, 0.58, 0.63, 0.66, 0.70, 0.75]),
    (1.72, [0.07, 0.11, 0.15, 0.19, 0.23, 0.27, 0.31, 0.36, 0.39, 0.43, 0.48, 0.51, 0.55, 0.60, 0.63, 0.67, 0.71]),
    (1.64, [0.05, 0.09, 0.13, 0.18, 0.21, 0.25, 0.30, 0.33, 0.37, 0.42, 0.45, 0.49, 0.54, 0.57, 0.61, 0.65]),
    (1.56, [0.04, 0.08, 0.12, 0.17, 0.20, 0.24, 0.29, 0.32, 0.36, 0.41, 0.44, 0.48, 0.53, 0.56]),
    (1.48, [0.05, 0.09, 0.13, 0.17, 0.21, 0.25, 0.29, 0.33, 0.37, 0.41]),
    (1.40, [0.03, 0.06, 0.10, 0.14, 0.18, 0.22, 0.26, 0.30, 0.34, 0.38]),
    (1.32, [0.06, 0.11, 0.15, 0.19, 0.23, 0.27, 0.31, 0.35]),
    (1.24, [0.07, 0.12, 0.16, 0.20, 0.24, 0.28, 0.32, 0.36]),
    (1.16, [0.08, 0.11, 0.16, 0.21, 0.25, 0.29, 0.33]),
    (1.08, [0.07, 0.17, 0.22, 0.27]),
]

# relative contribution (%) per compound class
samples = ["Global core", "Global in-between", "Global satellite",
           "Sed Core - Water Sat/In-bet.", "Water Core - Sed Sat/In-bet.",
           "Sed Sat - Water Inbetween", "Water Sat - Sed Inbetween"]
sample_labels = ["Global core", "Global in-between", "Global satellite",
                 "Sed Core -\nWater Sat/In-bet.", "Water Core -\nSed Sat/In-bet.",
                 "Sed Sat -\nWater Inbetween", "Water Sat -\nSed Inbetween"]
classes = ["Amino Sugar", "Carbohydrates", "Condensed aromatics", "Lignin", "Lipid",
           "Protein", "Tannin", "Unsaturated hydrocarbons", "Other"]
class_labels = ["Amino Sugar", "Carbohydrates", "Condensed\naromatics", "Lignin", "Lipid",
                "Protein", "Tannin", "Unsaturated\nhydrocarbons", "Other"]
class_colors = ["#88CCEE", "#CC6677", "#DDCC77", "#44AA99", "#117733",
                "#332288", "#AA4499", "#999933", "#661100"]
amino_sugar = [8.0, 7.2, 5.8, 9.1, 0.4, 1.4, 10.0]
carbohydrates = [0.8, 7.0, 7.4, 2.5, 0.1, 4.2, 7.4]
condensed_aromatics = [2.4, 20.5, 12.9, 2.4, 12.4, 16.0, 2.8]
lignin = [51.2, 28.8, 33.8, 4.0, 66.3, 52.9, 17.3]
lipid = [4.1, 8.4, 13.0, 21.6, 0.0, 2.0, 21.3]
protein = [25.0, 17.8, 14.2, 58.1, 3.3, 4.2, 35.4]
tannin = [8.2, 9.5, 7.6, 1.0, 17.5, 18.2, 2.7]
unsat_hydrocarbons = [0.0, 0.5, 2.4, 0.7, 0.0, 0.6, 2.3]
other = [0.3, 0.3, 2.9, 0.6, 0.0, 0.5, 0.8]

# ---------------- style ----------------
sns.set_theme(style="white")
plt.rcParams["font.family"] = ["Liberation Sans", "DejaVu Sans"]

W, H = 1200, 1091
fig = plt.figure(figsize=(12, 10.91), dpi=100)
fig.patch.set_facecolor("white")

EDGE = "#333333"
TICKC = "#4D4D4D"


def box(x0, y0, x1, y1):
    return [x0 / W, 1 - y1 / H, (x1 - x0) / W, (y1 - y0) / H]


def unroll(rows):
    return pd.DataFrame([(x, y) for y, xs in rows for x in xs], columns=["oc", "hc"])


def strip(x0, y0, x1, y1, label):
    sa = fig.add_axes(box(x0, y0, x1, y1))
    sa.set_facecolor("#D9D9D9")
    sa.set_xticks([])
    sa.set_yticks([])
    for sp in sa.spines.values():
        sp.set_color(EDGE)
        sp.set_linewidth(0.9)
    sa.text(0.5, 0.48, label, ha="center", va="center", fontsize=12, color="#1A1A1A",
            transform=sa.transAxes)


def vk_panel(pos, rows, color, alpha, label, rx, xlab=True, ylab=True):
    x0, y0, x1, y1 = pos
    strip(x0, y0 - 31, x1, y0, label)
    ax = fig.add_axes(box(x0, y0, x1, y1))
    ax.set_facecolor("white")
    sns.scatterplot(data=unroll(rows), x="oc", y="hc", ax=ax, color=color, alpha=alpha,
                    s=46, edgecolor=color, linewidth=0.7, legend=False, zorder=3)
    ax.axhline(1.5, color="black", lw=1.3, ls=(0, (5, 3.5)), zorder=4)
    ax.axline((0, 1.1), slope=-0.3, color="black", lw=1.3, ls=(0, (5, 3.5)), zorder=4)
    ax.add_patch(Ellipse((0.52, 1.17), 2 * rx, 0.52, fill=False, ec="black", lw=1.0,
                         ls=(0, (1, 1.6)), zorder=4))
    ax.set_xlim(-0.061, 1.317)
    ax.set_ylim(-0.1, 2.1)
    ax.set_xticks(oc_ticks)
    ax.set_yticks(hc_ticks)
    ax.set_xticklabels([f"{v:.1f}" for v in oc_ticks])
    ax.set_yticklabels([f"{v:.1f}" for v in hc_ticks])
    ax.set_xlabel("")
    ax.set_ylabel("")
    ax.grid(True, color="#EBEBEB", lw=1.0)
    ax.set_axisbelow(True)
    for sp in ax.spines.values():
        sp.set_color(EDGE)
        sp.set_linewidth(0.9)
    ax.tick_params(labelsize=12, labelcolor=TICKC, color=EDGE, length=3.5, width=0.8, pad=2)
    if not xlab:
        ax.tick_params(axis="x", length=0, labelbottom=False)
    if not ylab:
        ax.tick_params(axis="y", length=0, labelleft=False)
    return ax


# ---------------- panel A ----------------
a1 = vk_panel((74, 45, 593, 340), core_rows + core_fill_rows, "#888888", 0.7,
              "Global core", 0.093, xlab=False)
a2 = vk_panel((74, 401, 593, 693), between_rows, "#661100", 0.75,
              "Global in-between", 0.093, xlab=False)
a3 = vk_panel((74, 755, 593, 1029), satellite_rows + satellite_fill_rows, "#0072B2", 0.7,
              "Global satellite", 0.093)

notes = [(1.99, "Saturated fatty acids"),
         (1.69, "Peptides and\nunsaturated\naliphatics"),
         (1.25, "Highly unsaturated\ncompounds"),
         (0.50, "Vascular plant-\nderived polyphenols\nand phenols")]
for yv, txt in notes:
    a1.text(0.905, yv, txt, ha="left", va="center", fontsize=12, linespacing=0.85, zorder=5)
a1.text(0.64, 1.17, "IOS", ha="left", va="center", fontsize=12, zorder=5)

fig.text(23 / W, 1 - 550 / H, "H/C", rotation=90, ha="center", va="center", fontsize=13.5)
fig.text(320 / W, 1 - 1080 / H, "O/C", ha="center", va="center", fontsize=13.5)

# ---------------- panel B ----------------
vk_panel((674, 45, 906, 223), sedcore_rows + sedcore_fill_rows, "#FFB000", 0.7,
         "Sed Core - Water Sat/In-bet.", 0.12, xlab=False)
vk_panel((934, 45, 1193, 223), sedsat_rows + sedsat_fill_rows, "#648FFF", 0.7,
         "Sed Sat - Water Inbetween", 0.115, xlab=False, ylab=False)
vk_panel((674, 283, 906, 442), watcore_rows + watcore_fill_rows, "#FE6100", 0.7,
         "Water Core - Sed Sat/In-bet.", 0.12)
vk_panel((934, 283, 1193, 442), watsat_rows + watsat_fill_rows, "#DC267F", 0.7,
         "Water Sat - Sed Inbetween", 0.115, ylab=False)

fig.text(623 / W, 1 - 260 / H, "H/C", rotation=90, ha="center", va="center", fontsize=13.5)
fig.text(920 / W, 1 - 490 / H, "O/C", ha="center", va="center", fontsize=13.5)

# ---------------- panel C ----------------
comp = pd.DataFrame({"sample": samples, "Amino Sugar": amino_sugar, "Carbohydrates": carbohydrates,
                     "Condensed aromatics": condensed_aromatics, "Lignin": lignin, "Lipid": lipid,
                     "Protein": protein, "Tannin": tannin,
                     "Unsaturated hydrocarbons": unsat_hydrocarbons, "Other": other})
tops = comp[classes[::-1]].cumsum(axis=1)

axc = fig.add_axes(box(676, 515, 1193, 827))
for cls, col in zip(classes, class_colors):
    sns.barplot(x=comp["sample"], y=tops[cls], order=samples, color=col, saturation=1,
                width=0.9, linewidth=0, ax=axc, errorbar=None)
axc.set_xlim(-0.6, 6.6)
axc.set_ylim(-5, 105)
axc.set_yticks([0, 25, 50, 75, 100])
axc.set_yticklabels(["0", "25", "50", "75", "100"])
axc.set_xticks(range(len(samples)))
axc.set_xticklabels(sample_labels, rotation=90, ha="right", va="center",
                    rotation_mode="anchor", multialignment="right")
axc.set_xlabel("")
axc.set_ylabel("Relative Contribution", fontsize=15, labelpad=6)
for sp in axc.spines.values():
    sp.set_color(EDGE)
    sp.set_linewidth(0.9)
axc.tick_params(labelsize=12, labelcolor=TICKC, color=EDGE, length=3.5, width=0.8, pad=3)
axc.tick_params(axis="y", labelsize=13)
axc.tick_params(axis="x", labelcolor="#1A1A1A", pad=5)

handles = [Patch(facecolor=c, edgecolor="none") for c in class_colors]
leg = fig.legend(handles, class_labels, ncol=5, loc="center left",
                 bbox_to_anchor=(668 / W, 1 - 1050 / H), frameon=False, fontsize=11,
                 handlelength=0.75, handleheight=2.15, handletextpad=0.8,
                 columnspacing=0.85, labelspacing=0.2, borderaxespad=0, borderpad=0)
for t in leg.get_texts():
    t.set_linespacing(0.95)
fig.text(610 / W, 1 - 1052 / H, "Class", fontsize=15, ha="left", va="center")

# panel tags
fig.text(13 / W, 1 - 18 / H, "A", fontsize=13, fontweight="bold", ha="center", va="center")
fig.text(608 / W, 1 - 18 / H, "B", fontsize=13, fontweight="bold", ha="center", va="center")
fig.text(608 / W, 1 - 514 / H, "C", fontsize=13, fontweight="bold", ha="center", va="center")

fig.savefig("out.png", dpi=100, facecolor="white")
